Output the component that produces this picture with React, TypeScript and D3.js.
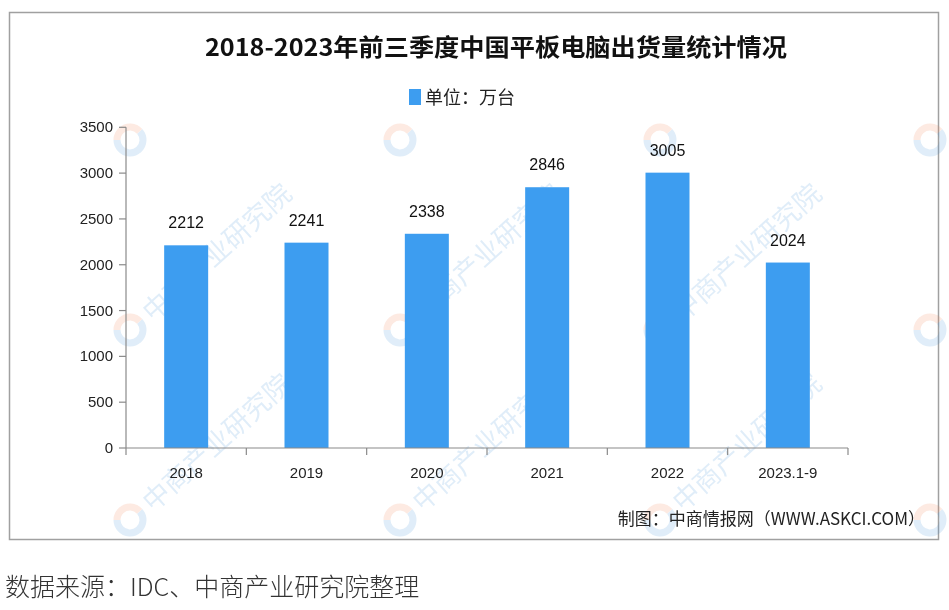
import React from "react";
import * as d3 from "d3";

const categories = ["2018", "2019", "2020", "2021", "2022", "2023.1-9"];
const values = [2212, 2241, 2338, 2846, 3005, 2024];
const yTicks = [0, 500, 1000, 1500, 2000, 2500, 3000, 3500];
const title = "2018-2023年前三季度中国平板电脑出货量统计情况";
const legendLabel = "单位：万台";
const credit = "制图：中商情报网（WWW.ASKCI.COM）";
const source = "数据来源：IDC、中商产业研究院整理";

const W = 949;
const H = 610;
const left = 126;
const right = 848;
const top = 127.3;
const bottom = 448;
const barColor = "#3d9df0";

// [x, y, showText]
const watermarks: [number, number, boolean][] = [
  [130, 140, false], [400, 140, false], [660, 140, false], [930, 140, false],
  [130, 330, true], [400, 330, true], [660, 330, true], [930, 330, false],
  [130, 520, true], [400, 520, true], [660, 520, true], [930, 520, false],
];

export default function App() {
  const x = d3.scaleBand<string>().domain(categories).range([left, right]).paddingInner(0).paddingOuter(0);
  const y = d3.scaleLinear().domain([0, 3500]).range([bottom, top]);
  const bw = 44;
  const font = "'Liberation Sans', Arial, sans-serif";
  const cjk = "'Noto Sans CJK SC', sans-serif";

  return (
    <svg width={W} height={H} style={{ position: "absolute", left: 0, top: 0, background: "#fff" }}>
      <rect x={0} y={0} width={W} height={H} fill="#fff" />
      <rect x={9.5} y={12.5} width={929} height={527} fill="#fff" stroke="#a0a0a0" strokeWidth={1.5} />
      {/* watermarks */}
      <g opacity={0.16}>
        {watermarks.map(([wx, wy, show], i) => (
          <g key={i} transform={`translate(${wx},${wy}) rotate(-42)`}>
            <circle cx={0} cy={0} r={13} fill="none" stroke="#3b8fd6" strokeWidth={7} strokeDasharray="50 32" />
            <circle cx={0} cy={0} r={13} fill="none" stroke="#f07a4a" strokeWidth={7} strokeDasharray="0 50 32 0" />
            {show && <text x={22} y={10} fontFamily={cjk} fontSize={27} fill="#3b8fd6">中商产业研究院</text>}
          </g>
        ))}
      </g>
      <text x={496} y={56} textAnchor="middle" fontFamily={cjk} fontWeight="bold" fontSize={24} fill="#111"
        textLength={582} lengthAdjust="spacingAndGlyphs">{title}</text>
      <rect x={409} y={89} width={12} height={16} fill={barColor} />
      <text x={425} y={104} fontFamily={cjk} fontSize={18} fill="#222">{legendLabel}</text>

      {/* bars */}
      {values.map((v, i) => {
        const cx = (x(categories[i]) as number) + x.bandwidth() / 2;
        return (
          <g key={i}>
            <rect x={cx - bw / 2} y={y(v)} width={bw} height={bottom - y(v)} fill={barColor} />
            <text x={cx} y={y(v) - 17} textAnchor="middle" fontFamily={font} fontSize={16} fill="#111">{v}</text>
          </g>
        );
      })}

      {/* y axis */}
      <line x1={left} x2={left} y1={top} y2={bottom} stroke="#8a8a8a" strokeWidth={1.2} />
      {yTicks.map((t) => (
        <g key={t}>
          <line x1={left - 7} x2={left} y1={y(t)} y2={y(t)} stroke="#8a8a8a" strokeWidth={1.2} />
          <text x={left - 13} y={y(t) + 5} textAnchor="end" fontFamily={font} fontSize={15} fill="#222">{t}</text>
        </g>
      ))}
      {/* x axis */}
      <line x1={left} x2={right} y1={bottom} y2={bottom} stroke="#8a8a8a" strokeWidth={1.2} />
      {categories.map((c, i) => (
        <line key={"t" + i} x1={x(c) as number} x2={x(c) as number} y1={bottom} y2={bottom + 7} stroke="#8a8a8a" strokeWidth={1.2} />
      ))}
      <line x1={right} x2={right} y1={bottom} y2={bottom + 7} stroke="#8a8a8a" strokeWidth={1.2} />
      {categories.map((c, i) => (
        <text key={"l" + i} x={(x(c) as number) + x.bandwidth() / 2} y={478} textAnchor="middle"
          fontFamily={font} fontSize={15} fill="#222">{c}</text>
      ))}

      <text x={925} y={525} textAnchor="end" fontFamily={cjk} fontSize={17} fill="#222">{credit}</text>
      <text x={5} y={596} fontFamily={cjk} fontSize={25} fontWeight={300} fill="#333">{source}</text>
    </svg>
  );
}
